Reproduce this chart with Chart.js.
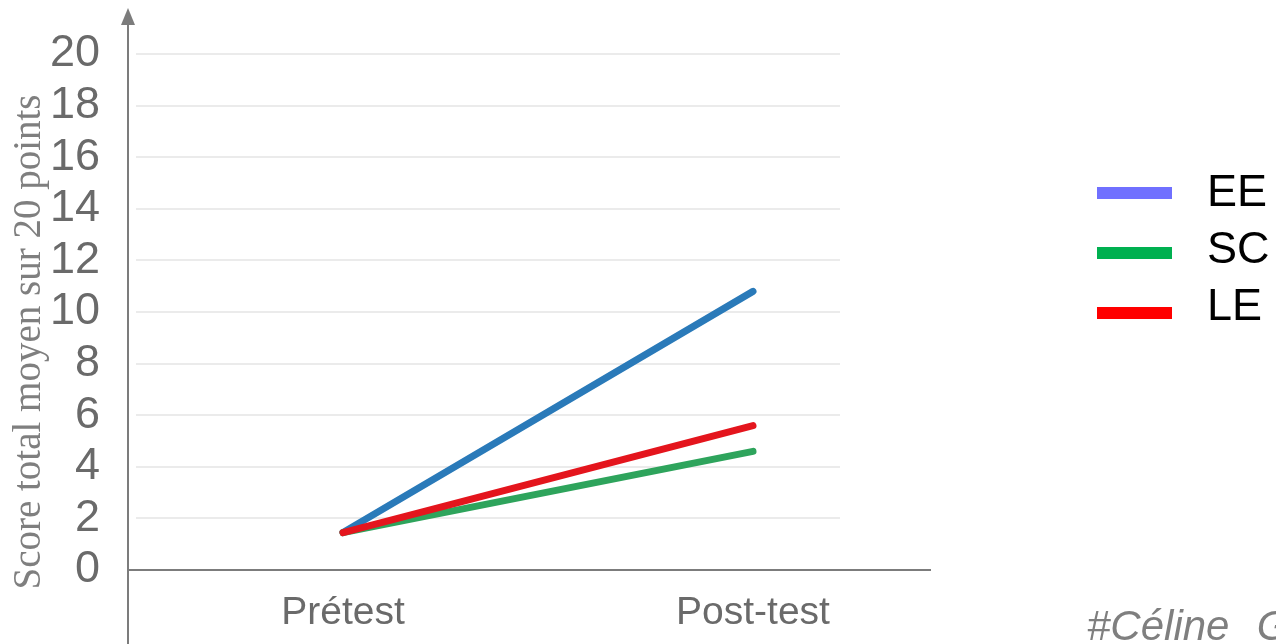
<!DOCTYPE html>
<html>
<head>
<meta charset="utf-8">
<script src="https://cdn.jsdelivr.net/npm/chart.js@4.4.1/dist/chart.umd.min.js"></script>
<style>
  html, body { margin: 0; padding: 0; background: #fff; overflow: hidden; }
  #wrap { position: relative; width: 1276px; height: 644px; overflow: hidden; }
  #chart { position: absolute; left: 0; top: 0; }
  .lg-bar { position: absolute; left: 1097px; width: 75px; height: 12px; }
  .lg-txt { position: absolute; left: 1207px; font-family: 'Liberation Sans', Arial, sans-serif; font-size: 45px; line-height: 45px; color: #000; white-space: nowrap; }
  #credit { position: absolute; left: 1087px; top: 605px; font-family: 'Liberation Sans', Arial, sans-serif; font-style: italic; font-size: 42px; line-height: 42px; color: #7f7f7f; white-space: pre; word-spacing: 2px; }
</style>
</head>
<body>
<div id="wrap">
  <canvas id="chart" width="1276" height="644"></canvas>
  <div id="legend"></div>
  <div id="credit">#Céline  G</div>
</div>
<script>
// ---- data ----
const categories = ['Prétest', 'Post-test'];
const seriesNames = ['EE', 'SC', 'LE'];
const eeValues = [1.45, 10.8];
const scValues = [1.45, 4.6];
const leValues = [1.45, 5.6];
const yTicks = [0, 2, 4, 6, 8, 10, 12, 14, 16, 18, 20];
const yTitle = 'Score total moyen sur 20 points';

// ---- styles ----
const lineColors = ['#2a7ab9', '#2ea45c', '#e4151d'];
const legendColors = ['#7070ff', '#00b050', '#ff0000'];
const drawOrder = [2, 1, 0]; // LE on top
const seriesValues = [eeValues, scValues, leValues];

const axisColor = '#7c7c7c';

const gridPlugin = {
  id: 'customGrid',
  beforeDatasetsDraw(chart) {
    const {ctx, chartArea, scales} = chart;
    ctx.save();
    ctx.strokeStyle = '#ebebeb';
    ctx.lineWidth = 2;
    yTicks.forEach(v => {
      if (v === 0) return;
      const y = Math.round(scales.y.getPixelForValue(v));
      ctx.beginPath();
      ctx.moveTo(chartArea.left + 8, y);
      ctx.lineTo(840, y);
      ctx.stroke();
    });
    ctx.restore();
  }
};

const arrowPlugin = {
  id: 'axisArrow',
  afterDraw(chart) {
    const {ctx, chartArea} = chart;
    const x = chartArea.left;
    ctx.save();
    ctx.strokeStyle = axisColor;
    ctx.fillStyle = axisColor;
    ctx.lineWidth = 2;
    ctx.beginPath();
    ctx.moveTo(x, chartArea.top);
    ctx.lineTo(x, 22);
    ctx.stroke();
    ctx.beginPath();
    ctx.moveTo(x, 8);
    ctx.lineTo(x - 7, 25);
    ctx.lineTo(x + 7, 25);
    ctx.closePath();
    ctx.fill();
    ctx.restore();
  }
};

Chart.defaults.font.family = "'Liberation Sans', Arial, sans-serif";

new Chart(document.getElementById('chart'), {
  type: 'line',
  data: {
    datasets: seriesNames.map((name, i) => ({
      label: name,
      data: categories.map((c, j) => ({x: j, y: seriesValues[i][j]})),
      borderColor: lineColors[i],
      backgroundColor: legendColors[i],
      borderWidth: 7,
      borderCapStyle: 'round',
      pointRadius: 0,
      tension: 0,
      order: drawOrder[i],
      clip: false
    }))
  },
  options: {
    responsive: false,
    animation: false,
    layout: { padding: { left: 0, right: 346, top: 40, bottom: 0 } },
    plugins: { legend: { display: false }, tooltip: { enabled: false } },
    scales: {
      x: {
        type: 'linear',
        position: { y: 0 },
        min: -0.5244,
        max: 1.4317,
        afterBuildTicks: s => { s.ticks = categories.map((c, i) => ({value: i})); },
        afterFit: s => { s.paddingLeft = 0; s.paddingRight = 0; },
        ticks: {
          callback: v => categories[v],
          font: { size: 39 },
          color: '#6a6a6a',
          padding: 20,
          autoSkip: false,
          maxRotation: 0
        },
        grid: { drawOnChartArea: false, drawTicks: false },
        border: { display: true, color: axisColor, width: 2 }
      },
      y: {
        type: 'linear',
        min: -2.868,
        max: 20.543,
        afterBuildTicks: s => { s.ticks = yTicks.map(v => ({value: v})); },
        afterFit: s => { s.width = 128; s.paddingTop = 0; s.paddingBottom = 0; },
        ticks: {
          callback: v => String(v),
          font: { size: 45 },
          color: '#6a6a6a',
          padding: 28,
          autoSkip: false
        },
        grid: { drawOnChartArea: false, drawTicks: false },
        border: { display: true, color: axisColor, width: 2 },
        title: {
          display: true,
          text: yTitle,
          font: { family: "'Liberation Serif', 'Times New Roman', serif", size: 39 },
          color: '#7f7f7f',
          padding: { top: 6, bottom: 0 }
        }
      }
    }
  },
  plugins: [gridPlugin, arrowPlugin]
});

// HTML legend
const legend = document.getElementById('legend');
seriesNames.forEach((name, i) => {
  const bar = document.createElement('div');
  bar.className = 'lg-bar';
  bar.style.top = (187 + i * 60) + 'px';
  bar.style.background = legendColors[i];
  legend.appendChild(bar);
  const t = document.createElement('div');
  t.className = 'lg-txt';
  t.style.top = (168 + i * 57) + 'px';
  t.textContent = name;
  legend.appendChild(t);
});
</script>
</body>
</html>
